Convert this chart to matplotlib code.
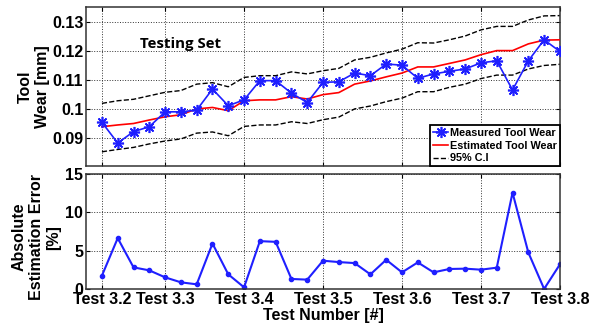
import numpy as np
import matplotlib
matplotlib.use("Agg")
import matplotlib.pyplot as plt

plt.rcParams["font.family"] = ["Liberation Sans", "DejaVu Sans"]
plt.rcParams["font.weight"] = "bold"

# test index 1..30
test_idx = np.arange(1, 31)
tick_pos = [1, 5, 10, 15, 20, 25, 30]
tick_labels = ["Test 3.2", "Test 3.3", "Test 3.4", "Test 3.5", "Test 3.6", "Test 3.7", "Test 3.8"]

measured = [0.0955, 0.0884, 0.0923, 0.0940, 0.0991, 0.0991, 0.0997, 0.1069, 0.1012, 0.1032,
            0.1098, 0.1098, 0.1055, 0.1023, 0.1092, 0.1094, 0.1124, 0.1115, 0.1155, 0.1151,
            0.1106, 0.1121, 0.1130, 0.1138, 0.1159, 0.1166, 0.1066, 0.1166, 0.1238, 0.1198]
estimated = [0.0940, 0.0946, 0.0951, 0.0963, 0.0974, 0.0981, 0.1001, 0.1006, 0.0995, 0.1029,
             0.1032, 0.1032, 0.1043, 0.1035, 0.1050, 0.1057, 0.1086, 0.1097, 0.1111, 0.1124,
             0.1145, 0.1145, 0.1157, 0.1169, 0.1187, 0.1201, 0.1201, 0.1224, 0.1237, 0.1238]
ci_upper = [0.1020, 0.1029, 0.1034, 0.1046, 0.1058, 0.1064, 0.1086, 0.1091, 0.1077, 0.1109,
            0.1115, 0.1115, 0.1128, 0.1121, 0.1132, 0.1140, 0.1169, 0.1178, 0.1193, 0.1206,
            0.1228, 0.1227, 0.1238, 0.1251, 0.1272, 0.1284, 0.1284, 0.1306, 0.1320, 0.1321]
ci_lower = [0.0854, 0.0862, 0.0869, 0.0881, 0.0891, 0.0898, 0.0918, 0.0922, 0.0909, 0.0941,
            0.0946, 0.0946, 0.0957, 0.0951, 0.0964, 0.0973, 0.1001, 0.1011, 0.1026, 0.1038,
            0.1060, 0.1060, 0.1075, 0.1086, 0.1105, 0.1117, 0.1117, 0.1138, 0.1150, 0.1154]
abs_error = [1.73, 6.62, 2.81, 2.42, 1.51, 0.86, 0.60, 5.92, 1.90, 0.21,
             6.23, 6.14, 1.30, 1.21, 3.68, 3.50, 3.37, 1.90, 3.80, 2.16,
             3.46, 2.16, 2.60, 2.64, 2.51, 2.77, 12.55, 4.75, 0.00, 3.20]

FS = 11.5
BLUE = "#1f1fff"

fig = plt.figure(figsize=(5.9, 3.25), dpi=100)
ax1 = fig.add_axes([0.146, 0.489, 0.803, 0.489])
ax2 = fig.add_axes([0.146, 0.111, 0.803, 0.354])

def style(ax):
    ax.grid(True, color="0.2", linestyle=":", linewidth=0.7)
    ax.tick_params(direction="in", top=True, right=True, length=3, labelsize=FS, pad=2)
    for s in ax.spines.values():
        s.set_color("0.2")
        s.set_linewidth(1.1)
    for lab in ax.get_xticklabels() + ax.get_yticklabels():
        lab.set_fontweight("bold")

# top: tool wear
ax1.plot(test_idx, measured, color=BLUE, marker=(8, 2, 0), markersize=8, markeredgewidth=1.2,
         linewidth=1.2, label="Measured Tool Wear", zorder=4)
ax1.plot(test_idx, estimated, color="red", linewidth=1.2, label="Estimated Tool Wear", zorder=3)
ax1.plot(test_idx, ci_upper, color="black", linestyle="--", linewidth=1.0, label="95% C.I", zorder=2)
ax1.plot(test_idx, ci_lower, color="black", linestyle="--", linewidth=1.0, zorder=2)
ax1.set_xlim(0, 30)
ax1.set_ylim(0.0805, 0.135)
ax1.set_xticks(tick_pos)
ax1.set_xticklabels([])
ax1.set_yticks([0.09, 0.1, 0.11, 0.12, 0.13])
ax1.set_yticklabels(["0.09", "0.1", "0.11", "0.12", "0.13"])
ax1.set_ylabel("Tool\nWear [mm]", fontsize=FS, fontweight="bold")
ax1.text(3.42, 0.12084, "Testing Set", fontsize=10.8, fontweight="bold", va="baseline",
         family=["Open Sans", "DejaVu Sans"])
leg = ax1.legend(loc="lower right", fontsize=7.8, frameon=True, fancybox=False,
                 borderaxespad=0, handlelength=1.4, handletextpad=0.2,
                 borderpad=0.25, labelspacing=0.25, framealpha=1)
leg.get_frame().set_edgecolor("black")
leg.get_frame().set_linewidth(1.3)
for t in leg.get_texts():
    t.set_fontweight("bold")
style(ax1)

# bottom: absolute estimation error
ax2.plot(test_idx, abs_error, color=BLUE, marker=".", markersize=6, linewidth=1.5)
ax2.set_xlim(0, 30)
ax2.set_ylim(0, 15)
ax2.set_yticks([0, 5, 10, 15])
ax2.set_xticks(tick_pos)
ax2.set_xticklabels(tick_labels)
ax2.set_ylabel("Absolute\nEstimation Error\n[%]", fontsize=FS, fontweight="bold")
ax2.set_xlabel("Test Number [#]", fontsize=FS, fontweight="bold")
style(ax2)

ax1.yaxis.set_label_coords(-0.076, 0.5)
ax2.yaxis.set_label_coords(-0.053, 0.45)
ax2.xaxis.set_label_coords(0.5, -0.165)

fig.savefig("out.png", dpi=100)
